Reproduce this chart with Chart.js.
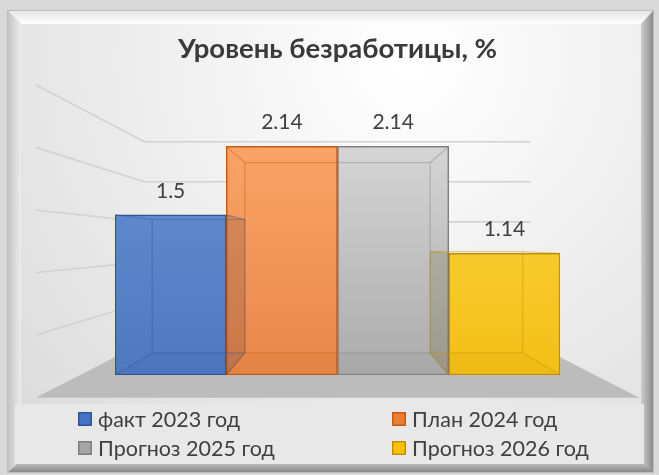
<!DOCTYPE html>
<html>
<head>
<meta charset="utf-8">
<script src="https://cdn.jsdelivr.net/npm/chart.js@4.4.1/dist/chart.umd.min.js"></script>
<style>
  html, body { margin: 0; padding: 0; background: #d9d9d9; }
  canvas { display: block; }
</style>
</head>
<body>
<canvas id="unemployment" width="659" height="475"></canvas>
<script>
// данные диаграммы
var title = 'Уровень безработицы, %';
var categories = ['факт 2023 год', 'План 2024 год', 'Прогноз 2025 год', 'Прогноз 2026 год'];
var values = [1.5, 2.14, 2.14, 1.14];
var yMax = 2.5;
var yStep = 0.5;

var boxColors = ['#4472c4', '#ed7d31', '#a5a5a5', '#ffc000'];
var edgeColors = ['#2f5597', '#c55a11', '#7f7f7f', '#bf9000'];
var topShades = ['#6891d6', '#fca86a', '#dcdcdc', '#fdd944'];
var bottomShades = ['#4f78c1', '#e8874a', '#ababab', '#f3bf17'];

var TEXT = '#404040';
var FONT = 'Lato, "Liberation Sans", sans-serif';

// псевдо-3D: коэффициенты глубины относительно точки схода
var DEPTH_BAR = 0.833, WALL_BACK = 0.75, WALL_FRONT = 1.172;

function vanish(area) {
  return { x: (area.left + area.right) / 2, y: area.bottom - 132 };
}
function proj(vp, x, y, k) {
  return [vp.x + k * (x - vp.x), vp.y + k * (y - vp.y)];
}
function poly(c, pts, fill, stroke, lw) {
  c.beginPath();
  c.moveTo(pts[0][0], pts[0][1]);
  for (var i = 1; i < pts.length; i++) c.lineTo(pts[i][0], pts[i][1]);
  c.closePath();
  if (fill) { c.fillStyle = fill; c.fill(); }
  if (stroke) { c.strokeStyle = stroke; c.lineWidth = lw || 1; c.stroke(); }
}
function alpha(hex, a) {
  var n = parseInt(hex.slice(1), 16);
  return 'rgba(' + (n >> 16) + ',' + ((n >> 8) & 255) + ',' + (n & 255) + ',' + a + ')';
}

// рамка с фаской и фон
var framePlugin = {
  id: 'frame',
  beforeDraw: function(chart) {
    var c = chart.ctx, w = chart.width, h = chart.height;
    var o = { l: 8, t: 11, r: w - 6, b: h - 3 };
    var i = { l: 21, t: 24, r: w - 18, b: h - 14 };
    c.save();
    c.fillStyle = '#d9d9d9';
    c.fillRect(0, 0, w, h);
    c.fillStyle = '#bdbdbd';
    c.fillRect(o.l - 1, o.t - 1, o.r - o.l + 2, o.b - o.t + 2);

    var g = c.createLinearGradient(0, o.t, 0, i.t);
    g.addColorStop(0, '#e6e6e6'); g.addColorStop(1, '#ffffff');
    poly(c, [[o.l, o.t], [o.r, o.t], [i.r, i.t], [i.l, i.t]], g);
    g = c.createLinearGradient(o.l, 0, i.l, 0);
    g.addColorStop(0, '#c4c4c4'); g.addColorStop(1, '#ececec');
    poly(c, [[o.l, o.t], [i.l, i.t], [i.l, i.b], [o.l, o.b]], g);
    g = c.createLinearGradient(o.r, 0, i.r, 0);
    g.addColorStop(0, '#8a8a8a'); g.addColorStop(1, '#cfcfcf');
    poly(c, [[o.r, o.t], [o.r, o.b], [i.r, i.b], [i.r, i.t]], g);
    g = c.createLinearGradient(0, o.b, 0, i.b);
    g.addColorStop(0, '#8a8a8a'); g.addColorStop(1, '#cbcbcb');
    poly(c, [[o.l, o.b], [o.r, o.b], [i.r, i.b], [i.l, i.b]], g);

    g = c.createRadialGradient(w * 0.62, 60, 10, w * 0.62, 60, 520);
    g.addColorStop(0, '#ffffff'); g.addColorStop(1, '#dcdcdc');
    c.fillStyle = g;
    c.fillRect(i.l, i.t, i.r - i.l, i.b - i.t);

    // полоса легенды
    c.fillStyle = '#e8e8e8';
    c.fillRect(15, 404, w - 30, 60);
    c.restore();
  }
};

// стены и пол
var wallsPlugin = {
  id: 'walls',
  beforeDatasetsDraw: function(chart) {
    var c = chart.ctx, a = chart.chartArea, ys = chart.scales.y;
    var vp = vanish(a);
    var L = a.left - 35, R = a.right + 35;
    var y0 = ys.getPixelForValue(0);
    c.save();
    poly(c, [proj(vp, L, y0, WALL_FRONT), proj(vp, L, y0, WALL_BACK),
             proj(vp, R, y0, WALL_BACK), proj(vp, R, y0, WALL_FRONT)], '#bcbcbc');
    c.strokeStyle = '#d2d2d2';
    c.lineWidth = 1.6;
    for (var v = yStep; v <= yMax + 1e-9; v += yStep) {
      var y = ys.getPixelForValue(v);
      var p1 = proj(vp, L, y, WALL_FRONT), p2 = proj(vp, L, y, WALL_BACK), p3 = proj(vp, R, y, WALL_BACK);
      c.beginPath();
      c.moveTo(p1[0], p1[1]); c.lineTo(p2[0], p2[1]); c.lineTo(p3[0], p3[1]);
      c.stroke();
    }
    c.restore();
  }
};

// грани столбиков и подписи значений
var boxesPlugin = {
  id: 'boxes',
  afterDatasetsDraw: function(chart) {
    var c = chart.ctx, a = chart.chartArea;
    var vp = vanish(a);
    var bars = chart.getDatasetMeta(0).data;
    c.save();
    bars.forEach(function(bar, i) {
      var l = bar.x - bar.width / 2, r = bar.x + bar.width / 2, t = bar.y, b = bar.base;
      var k = DEPTH_BAR;
      var bl = proj(vp, l, t, k), br = proj(vp, r, t, k), bbl = proj(vp, l, b, k), bbr = proj(vp, r, b, k);
      // наружная боковая грань видна поверх соседнего столбика
      if (bl[0] < l - 1) {
        poly(c, [[l, t], bl, bbl, [l, b]], 'rgba(0,0,0,0.1)');
        poly(c, [[l, t], bl, bbl, [l, b]], alpha(edgeColors[i], 0.06));
      }
      if (br[0] > r + 1) {
        poly(c, [[r, t], br, bbr, [r, b]], 'rgba(0,0,0,0.1)');
        poly(c, [[r, t], br, bbr, [r, b]], alpha(edgeColors[i], 0.04));
      }
      poly(c, [[l, b], [r, b], bbr, bbl], alpha(edgeColors[i], 0.08));
      var line = alpha(edgeColors[i], 0.4);
      poly(c, [bl, br, bbr, bbl], null, line, 1.2);
      c.strokeStyle = line;
      c.beginPath();
      c.moveTo(l, t); c.lineTo(bl[0], bl[1]);
      c.moveTo(r, t); c.lineTo(br[0], br[1]);
      c.moveTo(l, b); c.lineTo(bbl[0], bbl[1]);
      c.moveTo(r, b); c.lineTo(bbr[0], bbr[1]);
      c.stroke();
    });
    c.font = '21px ' + FONT;
    c.fillStyle = TEXT;
    c.textAlign = 'center';
    c.textBaseline = 'middle';
    bars.forEach(function(bar, i) {
      c.fillText(String(values[i]), bar.x, bar.y - 24);
    });
    c.restore();
  }
};

// легенда 2 x 2
var legendPlugin = {
  id: 'legendGrid',
  afterDraw: function(chart) {
    var c = chart.ctx;
    var cols = [78, 392], rows = [419, 448];
    c.save();
    c.font = '21.5px ' + FONT;
    c.textAlign = 'left';
    c.textBaseline = 'middle';
    chart.data.labels.forEach(function(lab, i) {
      var x = cols[i % 2], y = rows[Math.floor(i / 2)];
      c.fillStyle = boxColors[i];
      c.fillRect(x, y - 7, 14, 14);
      c.strokeStyle = edgeColors[i];
      c.lineWidth = 1.5;
      c.strokeRect(x + 0.75, y - 6.25, 12.5, 12.5);
      c.fillStyle = TEXT;
      c.fillText(lab, x + 20, y + 1);
    });
    c.restore();
  }
};

function makeChart() {
  var ctx = document.getElementById('unemployment').getContext('2d');
  new Chart(ctx, {
    type: 'bar',
    data: {
      labels: categories,
      datasets: [{
        label: title,
        data: values,
        backgroundColor: function(context) {
          var area = context.chart.chartArea;
          if (!area) return boxColors[context.dataIndex];
          var g = context.chart.ctx.createLinearGradient(0, area.top, 0, area.bottom);
          g.addColorStop(0, topShades[context.dataIndex]);
          g.addColorStop(1, bottomShades[context.dataIndex]);
          return g;
        },
        borderColor: edgeColors,
        borderWidth: 1.5,
        borderSkipped: false,
        barPercentage: 1,
        categoryPercentage: 1
      }]
    },
    options: {
      responsive: false,
      devicePixelRatio: 1,
      animation: false,
      layout: { padding: { left: 115, right: 99, top: 0, bottom: 100 } },
      scales: {
        x: { display: false },
        y: { display: false, min: 0, max: yMax, ticks: { stepSize: yStep } }
      },
      plugins: {
        legend: { display: false },
        tooltip: { enabled: false },
        title: {
          display: true,
          text: title,
          color: '#3a3a3a',
          font: { family: FONT, size: 27.5, weight: 'bold' },
          padding: { top: 33, bottom: 42 }
        }
      }
    },
    plugins: [framePlugin, wallsPlugin, boxesPlugin, legendPlugin]
  });
}

if (document.fonts && document.fonts.load) {
  Promise.all([
    document.fonts.load('21px Lato'),
    document.fonts.load('bold 27px Lato')
  ]).then(makeChart, makeChart);
} else {
  makeChart();
}
</script>
</body>
</html>
